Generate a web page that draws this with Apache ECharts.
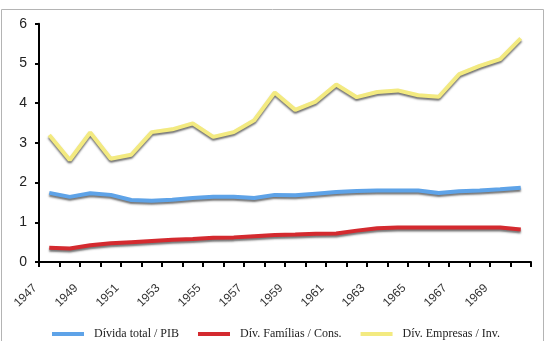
<!DOCTYPE html>
<html>
<head>
<meta charset="utf-8">
<script src="https://cdn.jsdelivr.net/npm/echarts@6/dist/echarts.min.js"></script>
<style>
  html, body { margin: 0; padding: 0; background: #fff; }
  #chart { width: 546px; height: 341px; }
</style>
</head>
<body>
<div id="chart"></div>
<script>
// anos (categorias)
const years = [
  "1947", "1948", "1949", "1950", "1951", "1952", "1953", "1954",
  "1955", "1956", "1957", "1958", "1959", "1960", "1961", "1962",
  "1963", "1964", "1965", "1966", "1967", "1968", "1969", "1970"
];
// séries
const dividaTotalPib = [
  1.74, 1.64, 1.73, 1.69, 1.56, 1.54, 1.57, 1.61, 1.64, 1.64, 1.61, 1.69,
  1.68, 1.72, 1.76, 1.79, 1.80, 1.80, 1.80, 1.74, 1.78, 1.80, 1.83, 1.87
];
const divFamiliasCons = [
  0.36, 0.34, 0.42, 0.47, 0.50, 0.53, 0.56, 0.58, 0.61, 0.62, 0.65, 0.68,
  0.69, 0.71, 0.72, 0.79, 0.85, 0.87, 0.87, 0.87, 0.87, 0.87, 0.87, 0.82
];
const divEmpresasInv = [
  3.20, 2.57, 3.26, 2.60, 2.70, 3.27, 3.34, 3.49, 3.15, 3.27, 3.57, 4.27,
  3.83, 4.04, 4.47, 4.15, 4.28, 4.32, 4.20, 4.16, 4.73, 4.94, 5.11, 5.63
];
const yTicks = [0, 1, 2, 3, 4, 5, 6];

let myChart = echarts.init(document.getElementById("chart"));

function linha(nome, dados, cor) {
  return {
    name: nome,
    type: "line",
    data: dados,
    symbol: "none",
    color: cor,
    lineStyle: {
      width: 4,
      color: cor,
      shadowColor: "rgba(70,70,70,0.75)",
      shadowBlur: 2,
      shadowOffsetY: 2,
      shadowOffsetX: 0,
    },
  };
}

myChart.setOption({
  animation: false,
  // moldura cinzenta
  graphic: [
    {
      type: "rect",
      shape: { x: 1.5, y: 9.5, width: 542, height: 345 },
      style: { fill: "none", stroke: "#b4b4b4", lineWidth: 1 },
      silent: true,
    },
  ],
  grid: {
    left: 39,
    right: 15,
    top: 23.7,
    bottom: 79,
  },
  legend: {
    left: 47,
    top: 323,
    itemWidth: 32,
    itemHeight: 4,
    itemGap: 19,
    icon: "rect",
    textStyle: {
      fontFamily: "Liberation Serif",
      fontSize: 12,
      color: "#222",
      padding: [0, 0, 0, 5],
    },
    data: ["Dívida total / PIB", "Dív. Famílias / Cons.", "Dív. Empresas / Inv."],
  },
  xAxis: {
    type: "category",
    data: years,
    boundaryGap: true,
    axisLine: { lineStyle: { color: "#000", width: 2 } },
    axisTick: { show: true, interval: 0, length: 5, lineStyle: { color: "#000", width: 2 } },
    axisLabel: {
      interval: 1,
      rotate: 45,
      margin: 10,
      padding: [0, 20, 0, 0],
      fontFamily: "Liberation Sans",
      fontSize: 12,
      color: "#333",
    },
  },
  yAxis: {
    type: "value",
    min: yTicks[0],
    max: yTicks[yTicks.length - 1],
    interval: 1,
    splitLine: { show: false },
    axisLine: { show: true, lineStyle: { color: "#000", width: 2 } },
    axisTick: { show: true, length: 4, lineStyle: { color: "#000", width: 2 } },
    axisLabel: {
      margin: 12,
      fontFamily: "Liberation Sans",
      fontSize: 14,
      color: "#222",
    },
  },
  series: [
    linha("Dívida total / PIB", dividaTotalPib, "#5ea3e8"),
    linha("Dív. Famílias / Cons.", divFamiliasCons, "#d42a2f"),
    linha("Dív. Empresas / Inv.", divEmpresasInv, "#f3ea80"),
  ],
});

window.addEventListener("resize", () => {
  myChart.resize();
});
</script>
</body>
</html>
